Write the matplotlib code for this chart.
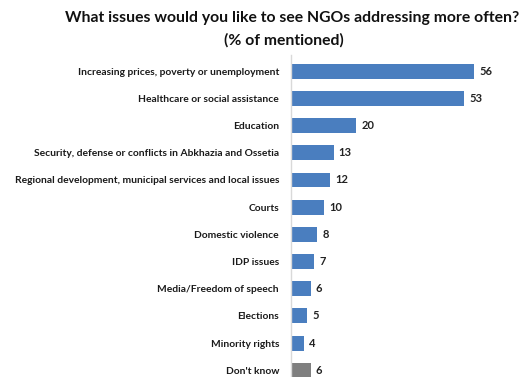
import matplotlib
matplotlib.use("Agg")
import matplotlib.pyplot as plt

categories = [
    "Increasing prices, poverty or unemployment",
    "Healthcare or social assistance",
    "Education",
    "Security, defense or conflicts in Abkhazia and Ossetia",
    "Regional development, municipal services and local issues",
    "Courts",
    "Domestic violence",
    "IDP issues",
    "Media/Freedom of speech",
    "Elections",
    "Minority rights",
    "Don't know",
]
values = [56, 53, 20, 13, 12, 10, 8, 7, 6, 5, 4, 6]
bar_colors = ["#4a7ebf"] * 11 + ["#7f7f7f"]

plt.rcParams["font.family"] = ["Lato", "DejaVu Sans"]

W, H = 529, 377
fig = plt.figure(figsize=(W / 100, H / 100), dpi=100)

# axes runs off the bottom edge so the last bar is cut like the slide
ax = fig.add_axes([291 / W, 0, 1 - 291 / W, (H - 55) / H])
ypos = list(range(len(categories)))
ax.barh(ypos, values, height=0.55, color=bar_colors)
ax.set_xlim(0, 72.8)
ax.set_ylim(11.25, -0.6)

for y, v in zip(ypos, values):
    ax.text(v + 1.6, y, str(v), va="center", ha="left",
            fontsize=8, fontweight="bold", color="#222222")

ax.set_yticks(ypos)
ax.set_yticklabels(categories, fontsize=7.4, fontweight="bold", color="#1a1a1a")
ax.tick_params(axis="y", length=0, pad=8.6)
ax.set_xticks([])
for side in ["top", "right", "bottom"]:
    ax.spines[side].set_visible(False)
ax.spines["left"].set_color("#d9d9d9")
ax.spines["left"].set_linewidth(1.0)

fig.text(292 / W, 1 - 18 / H, "What issues would you like to see NGOs addressing more often?",
         ha="center", va="center", fontsize=11.3, fontweight="bold", color="#111111")
fig.text(284 / W, 1 - 40 / H, "(% of mentioned)",
         ha="center", va="center", fontsize=11.3, fontweight="bold", color="#111111")

fig.savefig("out.png", dpi=100)
